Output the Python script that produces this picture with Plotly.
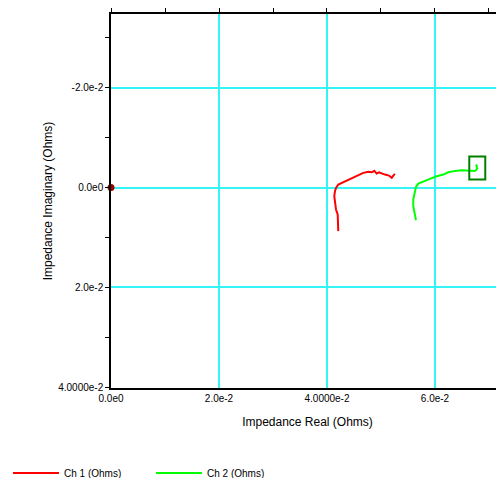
import plotly.graph_objects as go

# Ch 1 impedance (real, imaginary) in Ohms
ch1_real = [0.04209, 0.04209, 0.04198, 0.04167, 0.04148, 0.04135, 0.04148, 0.04167,
            0.04209, 0.04302, 0.04394, 0.04487, 0.04580, 0.04672, 0.04765, 0.04828,
            0.04876, 0.04920, 0.04963, 0.05013, 0.05074, 0.05148, 0.05198, 0.05228, 0.05259]
ch1_imag = [0.00874, 0.00706, 0.00540, 0.00440, 0.00306, 0.00174, 0.00074, 0.00006,
            -0.00060, -0.00106, -0.00146, -0.00194, -0.00240, -0.00294, -0.00314, -0.00306,
            -0.00334, -0.00280, -0.00306, -0.00280, -0.00260, -0.00240, -0.00194, -0.00240, -0.00274]

# Ch 2 impedance (real, imaginary) in Ohms
ch2_real = [0.05648, 0.05617, 0.05598, 0.05598, 0.05617, 0.05648, 0.05691, 0.05783,
            0.05907, 0.06031, 0.06154, 0.06246, 0.06370, 0.06494, 0.06617, 0.06741,
            0.06783, 0.06765, 0.06783]
ch2_imag = [0.00654, 0.00506, 0.00374, 0.00240, 0.00106, -0.00014, -0.00080, -0.00126,
            -0.00174, -0.00226, -0.00260, -0.00306, -0.00334, -0.00346, -0.00334, -0.00334,
            -0.00380, -0.00440, -0.00460]

origin_real = [0.0]
origin_imag = [0.0]

x_major_vals = [0.0, 0.02, 0.04, 0.06]
x_major_text = ["0.0e0", "2.0e-2", "4.0000e-2", "6.0e-2"]
x_top_ticks = [0.0, 0.01, 0.02, 0.03, 0.04, 0.05, 0.06, 0.07]
y_major_vals = [-0.02, 0.0, 0.02, 0.04]
y_major_text = ["-2.0e-2", "0.0e0", "2.0e-2", "4.0000e-2"]
y_minor_vals = [-0.03, -0.01, 0.01, 0.03]

FONT = "Liberation Sans, Arial, sans-serif"
GRID = "#33f5f5"

fig = go.Figure()
fig.add_trace(go.Scatter(x=ch1_real, y=ch1_imag, mode="lines", name="Ch 1 (Ohms)",
                         line=dict(color="#ff0000", width=2)))
fig.add_trace(go.Scatter(x=ch2_real, y=ch2_imag, mode="lines", name="Ch 2 (Ohms)",
                         line=dict(color="#00ff00", width=2)))
fig.add_trace(go.Scatter(x=origin_real, y=origin_imag, mode="markers", showlegend=False,
                         marker=dict(color="#a00000", size=7), cliponaxis=False))
# invisible trace to activate top axis
fig.add_trace(go.Scatter(x=origin_real, y=origin_imag, xaxis="x2", mode="markers",
                         showlegend=False, hoverinfo="skip", marker=dict(opacity=0)))

# cursor box around the last Ch 2 point
fig.add_shape(type="rect", xref="x", yref="y", xsizemode="pixel", ysizemode="pixel",
              xanchor=ch2_real[-1], yanchor=ch2_imag[-1],
              x0=-8, x1=8, y0=-15, y1=8,
              line=dict(color="#008000", width=2))

fig.update_layout(
    width=496, height=470,
    margin=dict(l=103, r=0, t=6, b=90),
    paper_bgcolor="white", plot_bgcolor="white",
    font=dict(family=FONT, size=10, color="#000000"),
    xaxis=dict(range=[0, 0.07278], tickvals=x_major_vals, ticktext=x_major_text,
               ticks="", showgrid=True, gridcolor=GRID, gridwidth=1.5, zeroline=False,
               showline=True, linecolor="#000000", linewidth=1.5,
               title=dict(text="Impedance Real (Ohms)", standoff=15),
               tickfont=dict(size=10)),
    xaxis2=dict(range=[0, 0.07278], overlaying="x", side="top", anchor="y",
                tickvals=x_top_ticks, showticklabels=False, ticks="outside", ticklen=4,
                tickcolor="#000000", tickwidth=1, showgrid=False, zeroline=False,
                showline=True, linecolor="#000000", linewidth=1.5),
    yaxis=dict(range=[0.0402, -0.0348], tickvals=y_major_vals, ticktext=y_major_text,
               ticks="outside", ticklen=4, tickcolor="#000000", tickwidth=1,
               minor=dict(tickvals=y_minor_vals, ticks="outside", ticklen=4,
                          tickcolor="#000000", showgrid=False),
               showgrid=True, gridcolor=GRID, gridwidth=1.5, zeroline=False,
               showline=True, linecolor="#000000", linewidth=1.5,
               title=dict(text="Impedance Imaginary (Ohms)", standoff=3),
               tickfont=dict(size=10)),
    legend=dict(orientation="h", xref="container", yref="container",
                x=0.0, y=0.0106, xanchor="left", yanchor="middle",
                font=dict(size=10), entrywidth=82, entrywidthmode="pixels",
                itemwidth=46, bgcolor="rgba(0,0,0,0)"),
    showlegend=True,
)

fig.write_html("out.html")
